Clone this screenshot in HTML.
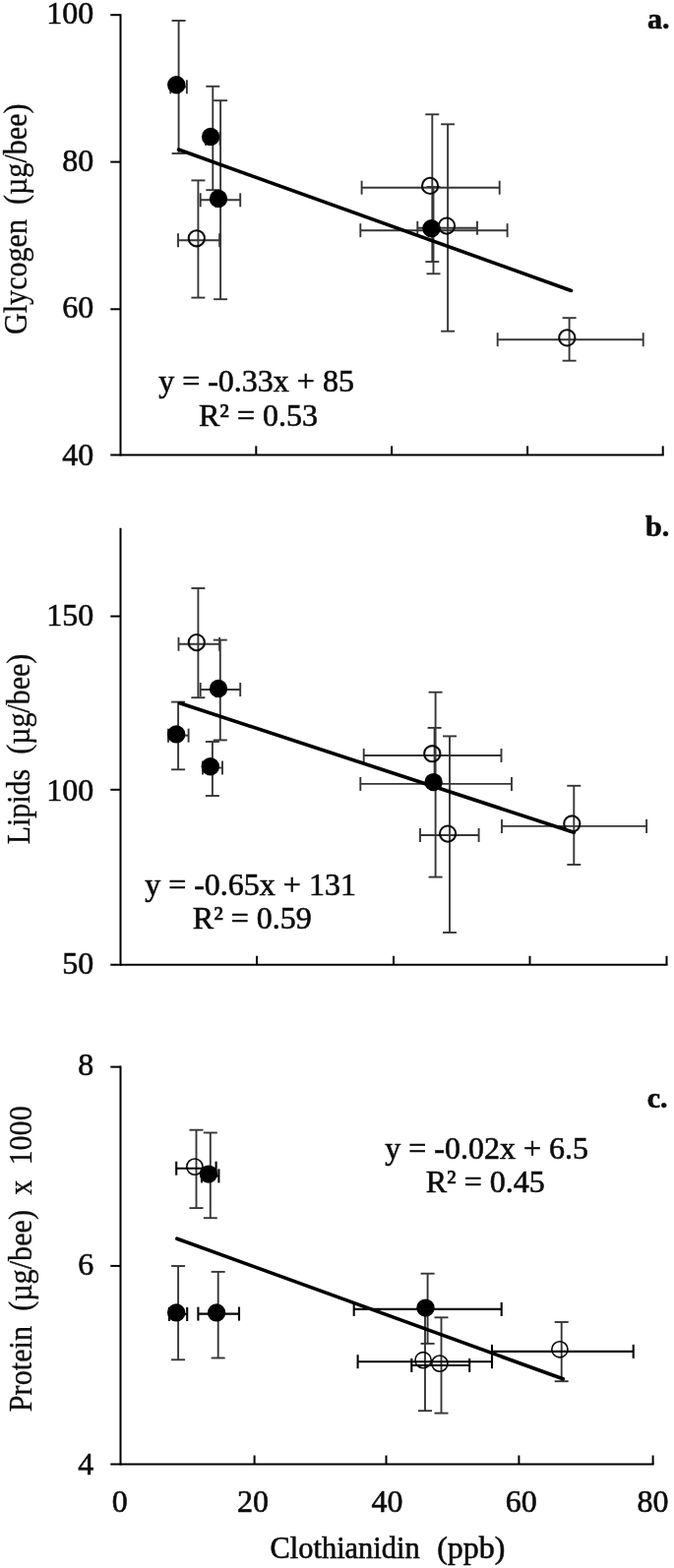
<!DOCTYPE html>
<html lang="en"><head><meta charset="utf-8"><title>Clothianidin vs. glycogen, lipids and protein</title>
<style>
html,body{margin:0;padding:0;background:#fff}
svg{display:block;font-family:"Liberation Serif","DejaVu Serif",serif;fill:#0c0c0c;stroke:none}
text{stroke:#0c0c0c;stroke-width:0.6px}
</style></head><body>
<svg width="685" height="1594" viewBox="0 0 685 1594">
<rect width="685" height="1594" fill="#fff"/>
<line x1="181.6" y1="21.0" x2="181.6" y2="156.0" stroke="#363636" stroke-width="1.9" stroke-linecap="butt"/>
<line x1="174.6" y1="21.0" x2="188.6" y2="21.0" stroke="#363636" stroke-width="1.9" stroke-linecap="butt"/>
<line x1="174.6" y1="156.0" x2="188.6" y2="156.0" stroke="#363636" stroke-width="1.9" stroke-linecap="butt"/>
<line x1="173.3" y1="88.3" x2="189.9" y2="88.3" stroke="#363636" stroke-width="1.9" stroke-linecap="butt"/>
<line x1="173.3" y1="81.3" x2="173.3" y2="95.3" stroke="#363636" stroke-width="1.9" stroke-linecap="butt"/>
<line x1="189.9" y1="81.3" x2="189.9" y2="95.3" stroke="#363636" stroke-width="1.9" stroke-linecap="butt"/>
<line x1="216.3" y1="87.8" x2="216.3" y2="193.2" stroke="#363636" stroke-width="1.9" stroke-linecap="butt"/>
<line x1="209.3" y1="87.8" x2="223.3" y2="87.8" stroke="#363636" stroke-width="1.9" stroke-linecap="butt"/>
<line x1="209.3" y1="193.2" x2="223.3" y2="193.2" stroke="#363636" stroke-width="1.9" stroke-linecap="butt"/>
<line x1="209.0" y1="140.9" x2="223.6" y2="140.9" stroke="#363636" stroke-width="1.9" stroke-linecap="butt"/>
<line x1="209.0" y1="133.9" x2="209.0" y2="147.9" stroke="#363636" stroke-width="1.9" stroke-linecap="butt"/>
<line x1="223.6" y1="133.9" x2="223.6" y2="147.9" stroke="#363636" stroke-width="1.9" stroke-linecap="butt"/>
<line x1="224.1" y1="102.2" x2="224.1" y2="304.2" stroke="#363636" stroke-width="1.9" stroke-linecap="butt"/>
<line x1="217.1" y1="102.2" x2="231.1" y2="102.2" stroke="#363636" stroke-width="1.9" stroke-linecap="butt"/>
<line x1="217.1" y1="304.2" x2="231.1" y2="304.2" stroke="#363636" stroke-width="1.9" stroke-linecap="butt"/>
<line x1="203.7" y1="203.3" x2="244.2" y2="203.3" stroke="#363636" stroke-width="1.9" stroke-linecap="butt"/>
<line x1="203.7" y1="196.3" x2="203.7" y2="210.3" stroke="#363636" stroke-width="1.9" stroke-linecap="butt"/>
<line x1="244.2" y1="196.3" x2="244.2" y2="210.3" stroke="#363636" stroke-width="1.9" stroke-linecap="butt"/>
<line x1="201.4" y1="183.4" x2="201.4" y2="302.6" stroke="#363636" stroke-width="1.9" stroke-linecap="butt"/>
<line x1="194.4" y1="183.4" x2="208.4" y2="183.4" stroke="#363636" stroke-width="1.9" stroke-linecap="butt"/>
<line x1="194.4" y1="302.6" x2="208.4" y2="302.6" stroke="#363636" stroke-width="1.9" stroke-linecap="butt"/>
<line x1="181.0" y1="244.2" x2="223.1" y2="244.2" stroke="#363636" stroke-width="1.9" stroke-linecap="butt"/>
<line x1="181.0" y1="237.2" x2="181.0" y2="251.2" stroke="#363636" stroke-width="1.9" stroke-linecap="butt"/>
<line x1="223.1" y1="237.2" x2="223.1" y2="251.2" stroke="#363636" stroke-width="1.9" stroke-linecap="butt"/>
<line x1="439.3" y1="116.3" x2="439.3" y2="266.1" stroke="#363636" stroke-width="1.9" stroke-linecap="butt"/>
<line x1="432.3" y1="116.3" x2="446.3" y2="116.3" stroke="#363636" stroke-width="1.9" stroke-linecap="butt"/>
<line x1="432.3" y1="266.1" x2="446.3" y2="266.1" stroke="#363636" stroke-width="1.9" stroke-linecap="butt"/>
<line x1="367.6" y1="190.7" x2="507.7" y2="190.7" stroke="#363636" stroke-width="1.9" stroke-linecap="butt"/>
<line x1="367.6" y1="183.7" x2="367.6" y2="197.7" stroke="#363636" stroke-width="1.9" stroke-linecap="butt"/>
<line x1="507.7" y1="183.7" x2="507.7" y2="197.7" stroke="#363636" stroke-width="1.9" stroke-linecap="butt"/>
<line x1="440.5" y1="190.0" x2="440.5" y2="278.3" stroke="#363636" stroke-width="1.9" stroke-linecap="butt"/>
<line x1="433.5" y1="190.0" x2="447.5" y2="190.0" stroke="#363636" stroke-width="1.9" stroke-linecap="butt"/>
<line x1="433.5" y1="278.3" x2="447.5" y2="278.3" stroke="#363636" stroke-width="1.9" stroke-linecap="butt"/>
<line x1="366.3" y1="234.2" x2="515.6" y2="234.2" stroke="#363636" stroke-width="1.9" stroke-linecap="butt"/>
<line x1="366.3" y1="227.2" x2="366.3" y2="241.2" stroke="#363636" stroke-width="1.9" stroke-linecap="butt"/>
<line x1="515.6" y1="227.2" x2="515.6" y2="241.2" stroke="#363636" stroke-width="1.9" stroke-linecap="butt"/>
<line x1="455.1" y1="126.3" x2="455.1" y2="336.7" stroke="#363636" stroke-width="1.9" stroke-linecap="butt"/>
<line x1="448.1" y1="126.3" x2="462.1" y2="126.3" stroke="#363636" stroke-width="1.9" stroke-linecap="butt"/>
<line x1="448.1" y1="336.7" x2="462.1" y2="336.7" stroke="#363636" stroke-width="1.9" stroke-linecap="butt"/>
<line x1="424.3" y1="231.8" x2="485.0" y2="231.8" stroke="#363636" stroke-width="1.9" stroke-linecap="butt"/>
<line x1="424.3" y1="224.8" x2="424.3" y2="238.8" stroke="#363636" stroke-width="1.9" stroke-linecap="butt"/>
<line x1="485.0" y1="224.8" x2="485.0" y2="238.8" stroke="#363636" stroke-width="1.9" stroke-linecap="butt"/>
<line x1="578.6" y1="323.2" x2="578.6" y2="366.7" stroke="#363636" stroke-width="1.9" stroke-linecap="butt"/>
<line x1="571.6" y1="323.2" x2="585.6" y2="323.2" stroke="#363636" stroke-width="1.9" stroke-linecap="butt"/>
<line x1="571.6" y1="366.7" x2="585.6" y2="366.7" stroke="#363636" stroke-width="1.9" stroke-linecap="butt"/>
<line x1="505.7" y1="345.2" x2="653.7" y2="345.2" stroke="#363636" stroke-width="1.9" stroke-linecap="butt"/>
<line x1="505.7" y1="338.2" x2="505.7" y2="352.2" stroke="#363636" stroke-width="1.9" stroke-linecap="butt"/>
<line x1="653.7" y1="338.2" x2="653.7" y2="352.2" stroke="#363636" stroke-width="1.9" stroke-linecap="butt"/>
<line x1="181.5" y1="152.0" x2="580.5" y2="295.5" stroke="#000" stroke-width="3.6" stroke-linecap="round"/>
<circle cx="179.3" cy="86.3" r="9.2" fill="#000"/>
<circle cx="214.1" cy="138.9" r="9.2" fill="#000"/>
<circle cx="222.0" cy="201.9" r="9.2" fill="#000"/>
<circle cx="199.8" cy="242.3" r="8.1" fill="none" stroke="#0a0a0a" stroke-width="2.1"/>
<circle cx="437.1" cy="188.9" r="8.1" fill="none" stroke="#0a0a0a" stroke-width="2.1"/>
<circle cx="438.5" cy="232.2" r="9.2" fill="#000"/>
<circle cx="454.0" cy="229.6" r="8.1" fill="none" stroke="#0a0a0a" stroke-width="2.1"/>
<circle cx="576.3" cy="343.4" r="8.1" fill="none" stroke="#0a0a0a" stroke-width="2.1"/>
<line x1="122.5" y1="14.2" x2="122.5" y2="463.4" stroke="#000" stroke-width="2" stroke-linecap="butt"/>
<line x1="112.3" y1="462.4" x2="674.7" y2="462.4" stroke="#000" stroke-width="2" stroke-linecap="butt"/>
<line x1="112.3" y1="15.2" x2="122.5" y2="15.2" stroke="#000" stroke-width="2" stroke-linecap="butt"/>
<text x="95.2" y="23.8" text-anchor="end" font-size="32">100</text>
<line x1="112.3" y1="164.6" x2="122.5" y2="164.6" stroke="#000" stroke-width="2" stroke-linecap="butt"/>
<text x="95.2" y="173.6" text-anchor="end" font-size="32">80</text>
<line x1="112.3" y1="314.3" x2="122.5" y2="314.3" stroke="#000" stroke-width="2" stroke-linecap="butt"/>
<text x="95.2" y="323.4" text-anchor="end" font-size="32">60</text>
<text x="95.2" y="473.4" text-anchor="end" font-size="32">40</text>
<line x1="260.3" y1="453.4" x2="260.3" y2="462.4" stroke="#000" stroke-width="2" stroke-linecap="butt"/>
<line x1="398.1" y1="453.4" x2="398.1" y2="462.4" stroke="#000" stroke-width="2" stroke-linecap="butt"/>
<line x1="536.1" y1="453.4" x2="536.1" y2="462.4" stroke="#000" stroke-width="2" stroke-linecap="butt"/>
<line x1="673.7" y1="453.4" x2="673.7" y2="462.4" stroke="#000" stroke-width="2" stroke-linecap="butt"/>
<text transform="translate(27.0,222.8) rotate(-90)" x="-117.2" y="0" textLength="234.5" lengthAdjust="spacingAndGlyphs" font-size="33.5" style="white-space:pre;stroke-width:0.3px">Glycogen  (µg/bee)</text>
<text x="260.5" y="398.0" text-anchor="middle" font-size="32">y = -0.33x + 85</text>
<text x="262.5" y="433.0" text-anchor="middle" font-size="32">R² = 0.53</text>
<text x="680.4" y="28.5" text-anchor="end" font-size="30" font-weight="bold">a.</text>
<line x1="201.4" y1="598.0" x2="201.4" y2="709.2" stroke="#363636" stroke-width="1.9" stroke-linecap="butt"/>
<line x1="194.4" y1="598.0" x2="208.4" y2="598.0" stroke="#363636" stroke-width="1.9" stroke-linecap="butt"/>
<line x1="194.4" y1="709.2" x2="208.4" y2="709.2" stroke="#363636" stroke-width="1.9" stroke-linecap="butt"/>
<line x1="181.5" y1="654.8" x2="223.1" y2="654.8" stroke="#363636" stroke-width="1.9" stroke-linecap="butt"/>
<line x1="181.5" y1="647.8" x2="181.5" y2="661.8" stroke="#363636" stroke-width="1.9" stroke-linecap="butt"/>
<line x1="223.1" y1="647.8" x2="223.1" y2="661.8" stroke="#363636" stroke-width="1.9" stroke-linecap="butt"/>
<line x1="223.8" y1="650.6" x2="223.8" y2="752.4" stroke="#363636" stroke-width="1.9" stroke-linecap="butt"/>
<line x1="216.8" y1="650.6" x2="230.8" y2="650.6" stroke="#363636" stroke-width="1.9" stroke-linecap="butt"/>
<line x1="216.8" y1="752.4" x2="230.8" y2="752.4" stroke="#363636" stroke-width="1.9" stroke-linecap="butt"/>
<line x1="203.7" y1="701.0" x2="244.2" y2="701.0" stroke="#363636" stroke-width="1.9" stroke-linecap="butt"/>
<line x1="203.7" y1="694.0" x2="203.7" y2="708.0" stroke="#363636" stroke-width="1.9" stroke-linecap="butt"/>
<line x1="244.2" y1="694.0" x2="244.2" y2="708.0" stroke="#363636" stroke-width="1.9" stroke-linecap="butt"/>
<line x1="181.1" y1="713.6" x2="181.1" y2="782.3" stroke="#363636" stroke-width="1.9" stroke-linecap="butt"/>
<line x1="174.1" y1="713.6" x2="188.1" y2="713.6" stroke="#363636" stroke-width="1.9" stroke-linecap="butt"/>
<line x1="174.1" y1="782.3" x2="188.1" y2="782.3" stroke="#363636" stroke-width="1.9" stroke-linecap="butt"/>
<line x1="171.0" y1="747.7" x2="191.6" y2="747.7" stroke="#363636" stroke-width="1.9" stroke-linecap="butt"/>
<line x1="171.0" y1="740.7" x2="171.0" y2="754.7" stroke="#363636" stroke-width="1.9" stroke-linecap="butt"/>
<line x1="191.6" y1="740.7" x2="191.6" y2="754.7" stroke="#363636" stroke-width="1.9" stroke-linecap="butt"/>
<line x1="215.9" y1="754.0" x2="215.9" y2="809.0" stroke="#363636" stroke-width="1.9" stroke-linecap="butt"/>
<line x1="208.9" y1="754.0" x2="222.9" y2="754.0" stroke="#363636" stroke-width="1.9" stroke-linecap="butt"/>
<line x1="208.9" y1="809.0" x2="222.9" y2="809.0" stroke="#363636" stroke-width="1.9" stroke-linecap="butt"/>
<line x1="206.0" y1="780.5" x2="226.0" y2="780.5" stroke="#363636" stroke-width="1.9" stroke-linecap="butt"/>
<line x1="206.0" y1="773.5" x2="206.0" y2="787.5" stroke="#363636" stroke-width="1.9" stroke-linecap="butt"/>
<line x1="226.0" y1="773.5" x2="226.0" y2="787.5" stroke="#363636" stroke-width="1.9" stroke-linecap="butt"/>
<line x1="441.6" y1="739.9" x2="441.6" y2="796.1" stroke="#363636" stroke-width="1.9" stroke-linecap="butt"/>
<line x1="434.6" y1="739.9" x2="448.6" y2="739.9" stroke="#363636" stroke-width="1.9" stroke-linecap="butt"/>
<line x1="434.6" y1="796.1" x2="448.6" y2="796.1" stroke="#363636" stroke-width="1.9" stroke-linecap="butt"/>
<line x1="369.7" y1="768.0" x2="509.5" y2="768.0" stroke="#363636" stroke-width="1.9" stroke-linecap="butt"/>
<line x1="369.7" y1="761.0" x2="369.7" y2="775.0" stroke="#363636" stroke-width="1.9" stroke-linecap="butt"/>
<line x1="509.5" y1="761.0" x2="509.5" y2="775.0" stroke="#363636" stroke-width="1.9" stroke-linecap="butt"/>
<line x1="442.6" y1="703.7" x2="442.6" y2="891.6" stroke="#363636" stroke-width="1.9" stroke-linecap="butt"/>
<line x1="435.6" y1="703.7" x2="449.6" y2="703.7" stroke="#363636" stroke-width="1.9" stroke-linecap="butt"/>
<line x1="435.6" y1="891.6" x2="449.6" y2="891.6" stroke="#363636" stroke-width="1.9" stroke-linecap="butt"/>
<line x1="366.3" y1="796.9" x2="520.0" y2="796.9" stroke="#363636" stroke-width="1.9" stroke-linecap="butt"/>
<line x1="366.3" y1="789.9" x2="366.3" y2="803.9" stroke="#363636" stroke-width="1.9" stroke-linecap="butt"/>
<line x1="520.0" y1="789.9" x2="520.0" y2="803.9" stroke="#363636" stroke-width="1.9" stroke-linecap="butt"/>
<line x1="457.0" y1="748.4" x2="457.0" y2="948.0" stroke="#363636" stroke-width="1.9" stroke-linecap="butt"/>
<line x1="450.0" y1="748.4" x2="464.0" y2="748.4" stroke="#363636" stroke-width="1.9" stroke-linecap="butt"/>
<line x1="450.0" y1="948.0" x2="464.0" y2="948.0" stroke="#363636" stroke-width="1.9" stroke-linecap="butt"/>
<line x1="427.0" y1="849.0" x2="486.6" y2="849.0" stroke="#363636" stroke-width="1.9" stroke-linecap="butt"/>
<line x1="427.0" y1="842.0" x2="427.0" y2="856.0" stroke="#363636" stroke-width="1.9" stroke-linecap="butt"/>
<line x1="486.6" y1="842.0" x2="486.6" y2="856.0" stroke="#363636" stroke-width="1.9" stroke-linecap="butt"/>
<line x1="583.3" y1="798.8" x2="583.3" y2="879.0" stroke="#363636" stroke-width="1.9" stroke-linecap="butt"/>
<line x1="576.3" y1="798.8" x2="590.3" y2="798.8" stroke="#363636" stroke-width="1.9" stroke-linecap="butt"/>
<line x1="576.3" y1="879.0" x2="590.3" y2="879.0" stroke="#363636" stroke-width="1.9" stroke-linecap="butt"/>
<line x1="510.0" y1="839.9" x2="657.1" y2="839.9" stroke="#363636" stroke-width="1.9" stroke-linecap="butt"/>
<line x1="510.0" y1="832.9" x2="510.0" y2="846.9" stroke="#363636" stroke-width="1.9" stroke-linecap="butt"/>
<line x1="657.1" y1="832.9" x2="657.1" y2="846.9" stroke="#363636" stroke-width="1.9" stroke-linecap="butt"/>
<line x1="182.7" y1="714.8" x2="583.3" y2="846.3" stroke="#000" stroke-width="3.6" stroke-linecap="round"/>
<circle cx="199.8" cy="653.1" r="8.1" fill="none" stroke="#0a0a0a" stroke-width="2.1"/>
<circle cx="222.0" cy="699.9" r="9.2" fill="#000"/>
<circle cx="179.2" cy="746.4" r="9.2" fill="#000"/>
<circle cx="213.8" cy="779.3" r="9.2" fill="#000"/>
<circle cx="439.3" cy="766.2" r="8.1" fill="none" stroke="#0a0a0a" stroke-width="2.1"/>
<circle cx="440.6" cy="795.1" r="9.2" fill="#000"/>
<circle cx="455.1" cy="847.6" r="8.1" fill="none" stroke="#0a0a0a" stroke-width="2.1"/>
<circle cx="581.3" cy="837.5" r="8.1" fill="none" stroke="#0a0a0a" stroke-width="2.1"/>
<line x1="122.5" y1="536.8" x2="122.5" y2="981.8" stroke="#000" stroke-width="2" stroke-linecap="butt"/>
<line x1="112.3" y1="980.8" x2="678.5" y2="980.8" stroke="#000" stroke-width="2" stroke-linecap="butt"/>
<line x1="112.3" y1="626.5" x2="122.5" y2="626.5" stroke="#000" stroke-width="2" stroke-linecap="butt"/>
<text x="95.2" y="635.6" text-anchor="end" font-size="32">150</text>
<line x1="112.3" y1="802.8" x2="122.5" y2="802.8" stroke="#000" stroke-width="2" stroke-linecap="butt"/>
<text x="95.2" y="813.9" text-anchor="end" font-size="32">100</text>
<text x="95.2" y="990.0" text-anchor="end" font-size="32">50</text>
<line x1="261.0" y1="971.8" x2="261.0" y2="980.8" stroke="#000" stroke-width="2" stroke-linecap="butt"/>
<line x1="400.0" y1="971.8" x2="400.0" y2="980.8" stroke="#000" stroke-width="2" stroke-linecap="butt"/>
<line x1="538.5" y1="971.8" x2="538.5" y2="980.8" stroke="#000" stroke-width="2" stroke-linecap="butt"/>
<line x1="677.5" y1="971.8" x2="677.5" y2="980.8" stroke="#000" stroke-width="2" stroke-linecap="butt"/>
<text transform="translate(30.0,761.5) rotate(-90)" x="-96.8" y="0" textLength="193.5" lengthAdjust="spacingAndGlyphs" font-size="33.5" style="white-space:pre;stroke-width:0.3px">Lipids  (µg/bee)</text>
<text x="254.5" y="910.0" text-anchor="middle" font-size="32">y = -0.65x + 131</text>
<text x="256.3" y="944.0" text-anchor="middle" font-size="32">R² = 0.59</text>
<text x="680.2" y="544.6" text-anchor="end" font-size="30" font-weight="bold">b.</text>
<line x1="199.5" y1="1148.7" x2="199.5" y2="1228.1" stroke="#363636" stroke-width="1.9" stroke-linecap="butt"/>
<line x1="192.5" y1="1148.7" x2="206.5" y2="1148.7" stroke="#363636" stroke-width="1.9" stroke-linecap="butt"/>
<line x1="192.5" y1="1228.1" x2="206.5" y2="1228.1" stroke="#363636" stroke-width="1.9" stroke-linecap="butt"/>
<line x1="213.8" y1="1151.5" x2="213.8" y2="1238.2" stroke="#363636" stroke-width="1.9" stroke-linecap="butt"/>
<line x1="206.8" y1="1151.5" x2="220.8" y2="1151.5" stroke="#363636" stroke-width="1.9" stroke-linecap="butt"/>
<line x1="206.8" y1="1238.2" x2="220.8" y2="1238.2" stroke="#363636" stroke-width="1.9" stroke-linecap="butt"/>
<line x1="181.1" y1="1287.0" x2="181.1" y2="1382.3" stroke="#363636" stroke-width="1.9" stroke-linecap="butt"/>
<line x1="174.1" y1="1287.0" x2="188.1" y2="1287.0" stroke="#363636" stroke-width="1.9" stroke-linecap="butt"/>
<line x1="174.1" y1="1382.3" x2="188.1" y2="1382.3" stroke="#363636" stroke-width="1.9" stroke-linecap="butt"/>
<line x1="221.7" y1="1292.9" x2="221.7" y2="1380.5" stroke="#363636" stroke-width="1.9" stroke-linecap="butt"/>
<line x1="214.7" y1="1292.9" x2="228.7" y2="1292.9" stroke="#363636" stroke-width="1.9" stroke-linecap="butt"/>
<line x1="214.7" y1="1380.5" x2="228.7" y2="1380.5" stroke="#363636" stroke-width="1.9" stroke-linecap="butt"/>
<line x1="434.6" y1="1294.7" x2="434.6" y2="1365.9" stroke="#363636" stroke-width="1.9" stroke-linecap="butt"/>
<line x1="427.6" y1="1294.7" x2="441.6" y2="1294.7" stroke="#363636" stroke-width="1.9" stroke-linecap="butt"/>
<line x1="427.6" y1="1365.9" x2="441.6" y2="1365.9" stroke="#363636" stroke-width="1.9" stroke-linecap="butt"/>
<line x1="432.0" y1="1334.0" x2="432.0" y2="1434.2" stroke="#363636" stroke-width="1.9" stroke-linecap="butt"/>
<line x1="425.0" y1="1334.0" x2="439.0" y2="1334.0" stroke="#363636" stroke-width="1.9" stroke-linecap="butt"/>
<line x1="425.0" y1="1434.2" x2="439.0" y2="1434.2" stroke="#363636" stroke-width="1.9" stroke-linecap="butt"/>
<line x1="448.5" y1="1339.3" x2="448.5" y2="1436.6" stroke="#363636" stroke-width="1.9" stroke-linecap="butt"/>
<line x1="441.5" y1="1339.3" x2="455.5" y2="1339.3" stroke="#363636" stroke-width="1.9" stroke-linecap="butt"/>
<line x1="441.5" y1="1436.6" x2="455.5" y2="1436.6" stroke="#363636" stroke-width="1.9" stroke-linecap="butt"/>
<line x1="570.7" y1="1344.0" x2="570.7" y2="1404.2" stroke="#363636" stroke-width="1.9" stroke-linecap="butt"/>
<line x1="563.7" y1="1344.0" x2="577.7" y2="1344.0" stroke="#363636" stroke-width="1.9" stroke-linecap="butt"/>
<line x1="563.7" y1="1404.2" x2="577.7" y2="1404.2" stroke="#363636" stroke-width="1.9" stroke-linecap="butt"/>
<line x1="179.9" y1="1259.2" x2="572.2" y2="1401.8" stroke="#000" stroke-width="3.6" stroke-linecap="round"/>
<circle cx="197.9" cy="1186.1" r="8.1" fill="none" stroke="#0a0a0a" stroke-width="1.6"/>
<circle cx="211.9" cy="1193.6" r="9.2" fill="#000"/>
<circle cx="179.2" cy="1334.4" r="9.2" fill="#000"/>
<circle cx="220.1" cy="1334.4" r="9.2" fill="#000"/>
<circle cx="432.5" cy="1329.6" r="9.2" fill="#000"/>
<circle cx="430.1" cy="1382.7" r="8.1" fill="none" stroke="#0a0a0a" stroke-width="1.6"/>
<circle cx="446.9" cy="1386.1" r="8.1" fill="none" stroke="#0a0a0a" stroke-width="1.6"/>
<circle cx="568.9" cy="1371.8" r="8.1" fill="none" stroke="#0a0a0a" stroke-width="1.6"/>
<line x1="179.2" y1="1187.7" x2="219.6" y2="1187.7" stroke="#050505" stroke-width="2.1" stroke-linecap="butt"/>
<line x1="179.2" y1="1180.7" x2="179.2" y2="1194.7" stroke="#050505" stroke-width="2.1" stroke-linecap="butt"/>
<line x1="219.6" y1="1180.7" x2="219.6" y2="1194.7" stroke="#050505" stroke-width="2.1" stroke-linecap="butt"/>
<line x1="205.0" y1="1195.4" x2="222.4" y2="1195.4" stroke="#050505" stroke-width="2.1" stroke-linecap="butt"/>
<line x1="205.0" y1="1188.4" x2="205.0" y2="1202.4" stroke="#050505" stroke-width="2.1" stroke-linecap="butt"/>
<line x1="222.4" y1="1188.4" x2="222.4" y2="1202.4" stroke="#050505" stroke-width="2.1" stroke-linecap="butt"/>
<line x1="172.0" y1="1336.0" x2="190.2" y2="1336.0" stroke="#050505" stroke-width="2.1" stroke-linecap="butt"/>
<line x1="172.0" y1="1329.0" x2="172.0" y2="1343.0" stroke="#050505" stroke-width="2.1" stroke-linecap="butt"/>
<line x1="190.2" y1="1329.0" x2="190.2" y2="1343.0" stroke="#050505" stroke-width="2.1" stroke-linecap="butt"/>
<line x1="201.4" y1="1335.6" x2="243.0" y2="1335.6" stroke="#050505" stroke-width="2.1" stroke-linecap="butt"/>
<line x1="201.4" y1="1328.6" x2="201.4" y2="1342.6" stroke="#050505" stroke-width="2.1" stroke-linecap="butt"/>
<line x1="243.0" y1="1328.6" x2="243.0" y2="1342.6" stroke="#050505" stroke-width="2.1" stroke-linecap="butt"/>
<line x1="359.7" y1="1330.9" x2="509.7" y2="1330.9" stroke="#050505" stroke-width="2.1" stroke-linecap="butt"/>
<line x1="359.7" y1="1323.9" x2="359.7" y2="1337.9" stroke="#050505" stroke-width="2.1" stroke-linecap="butt"/>
<line x1="509.7" y1="1323.9" x2="509.7" y2="1337.9" stroke="#050505" stroke-width="2.1" stroke-linecap="butt"/>
<line x1="363.6" y1="1384.2" x2="500.0" y2="1384.2" stroke="#050505" stroke-width="2.1" stroke-linecap="butt"/>
<line x1="363.6" y1="1377.2" x2="363.6" y2="1391.2" stroke="#050505" stroke-width="2.1" stroke-linecap="butt"/>
<line x1="500.0" y1="1377.2" x2="500.0" y2="1391.2" stroke="#050505" stroke-width="2.1" stroke-linecap="butt"/>
<line x1="418.3" y1="1388.0" x2="477.2" y2="1388.0" stroke="#050505" stroke-width="2.1" stroke-linecap="butt"/>
<line x1="418.3" y1="1381.0" x2="418.3" y2="1395.0" stroke="#050505" stroke-width="2.1" stroke-linecap="butt"/>
<line x1="477.2" y1="1381.0" x2="477.2" y2="1395.0" stroke="#050505" stroke-width="2.1" stroke-linecap="butt"/>
<line x1="500.0" y1="1373.9" x2="643.7" y2="1373.9" stroke="#050505" stroke-width="2.1" stroke-linecap="butt"/>
<line x1="500.0" y1="1366.9" x2="500.0" y2="1380.9" stroke="#050505" stroke-width="2.1" stroke-linecap="butt"/>
<line x1="643.7" y1="1366.9" x2="643.7" y2="1380.9" stroke="#050505" stroke-width="2.1" stroke-linecap="butt"/>
<line x1="122.5" y1="1083.6" x2="122.5" y2="1489.5" stroke="#000" stroke-width="2" stroke-linecap="butt"/>
<line x1="112.3" y1="1488.5" x2="664.6" y2="1488.5" stroke="#000" stroke-width="2" stroke-linecap="butt"/>
<line x1="112.3" y1="1084.6" x2="122.5" y2="1084.6" stroke="#000" stroke-width="2" stroke-linecap="butt"/>
<text x="95.2" y="1093.3" text-anchor="end" font-size="32">8</text>
<line x1="112.3" y1="1286.9" x2="122.5" y2="1286.9" stroke="#000" stroke-width="2" stroke-linecap="butt"/>
<text x="95.2" y="1295.5" text-anchor="end" font-size="32">6</text>
<text x="95.2" y="1498.6" text-anchor="end" font-size="32">4</text>
<line x1="258.6" y1="1479.5" x2="258.6" y2="1488.5" stroke="#000" stroke-width="2" stroke-linecap="butt"/>
<line x1="392.5" y1="1479.5" x2="392.5" y2="1488.5" stroke="#000" stroke-width="2" stroke-linecap="butt"/>
<line x1="527.4" y1="1479.5" x2="527.4" y2="1488.5" stroke="#000" stroke-width="2" stroke-linecap="butt"/>
<line x1="663.6" y1="1479.5" x2="663.6" y2="1488.5" stroke="#000" stroke-width="2" stroke-linecap="butt"/>
<text transform="translate(31.5,1279.7) rotate(-90)" x="-155.5" y="0" textLength="311" lengthAdjust="spacingAndGlyphs" font-size="33.5" style="white-space:pre;stroke-width:0.3px">Protein  (µg/bee)  x  1000</text>
<text x="494.6" y="1177.5" text-anchor="middle" font-size="32">y = -0.02x + 6.5</text>
<text x="493.2" y="1212.0" text-anchor="middle" font-size="32">R² = 0.45</text>
<text x="678.6" y="1126.0" text-anchor="end" font-size="30" font-weight="bold">c.</text>
<text x="121.7" y="1537.3" text-anchor="middle" font-size="32">0</text>
<text x="257.1" y="1537.3" text-anchor="middle" font-size="32">20</text>
<text x="393.6" y="1537.3" text-anchor="middle" font-size="32">40</text>
<text x="529.8" y="1537.3" text-anchor="middle" font-size="32">60</text>
<text x="663.4" y="1537.3" text-anchor="middle" font-size="32">80</text>
<text x="274.6" y="1583.5" text-anchor="start" font-size="32" textLength="152" lengthAdjust="spacingAndGlyphs">Clothianidin</text>
<text x="444.2" y="1583.5" text-anchor="start" font-size="32">(ppb)</text>
</svg>
</body></html>
